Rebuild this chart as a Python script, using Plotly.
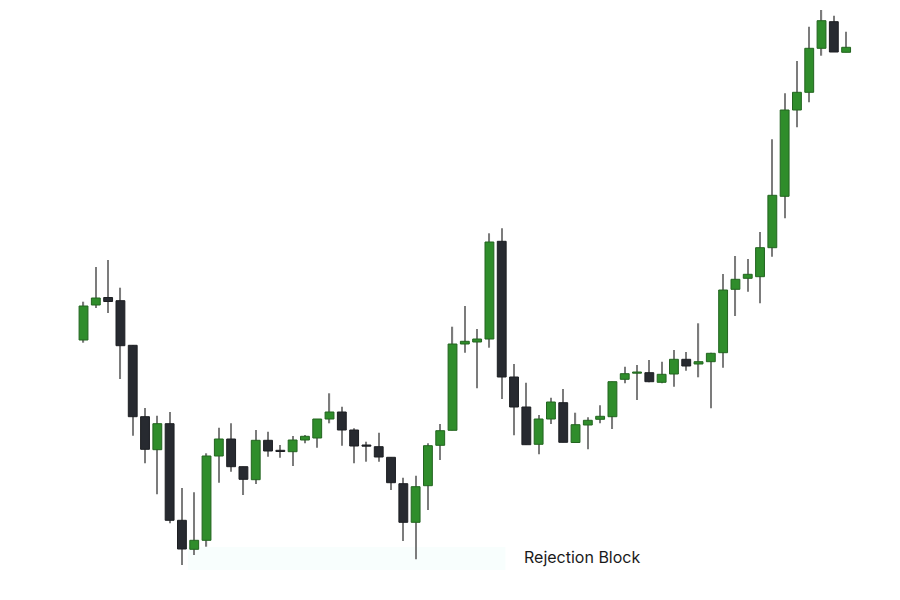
import plotly.graph_objects as go

# Candle values (arbitrary price units; higher = up)
opens  = [260, 295, 302.5, 299.3, 254.7, 183.3, 150.3, 176.3, 79.7, 50.7,
          59.7, 144, 161, 133.3, 120.3, 159.7, 149.5, 148.3, 160, 162, 181,
          188, 170, 154.2, 153.3, 142.7, 116.3, 77.7, 114.3, 154.7, 169.7,
          256, 258, 261, 358.7, 223, 193, 155.7, 181, 197.3, 157.5, 175,
          180.7, 183.3, 220.7, 226.8, 227.3, 217.7, 226, 240.7, 236, 238.3,
          247.3, 310.7, 321.7, 323.3, 352.3, 403.7, 490, 507.7, 551.7, 578.3,
          547.7]
highs  = [298.3, 333, 340, 312.3, 255, 192, 184.3, 188, 112, 107.7,
          146.7, 172.3, 176.7, 133.3, 170, 168.3, 155, 164, 165, 181, 206.7,
          193.3, 171.7, 158.3, 167.3, 142.7, 122.3, 124.3, 156.7, 176, 273.3,
          294, 271, 366.7, 371.7, 236, 217.3, 185, 202.3, 211, 187.3, 182.7,
          194.7, 218.3, 233.3, 235, 240, 238.3, 250, 248, 276.7, 247.3, 326,
          344, 341, 368, 460.7, 506.7, 539, 573.3, 590, 584.3, 568.3]
lows   = [257.3, 292, 287, 221, 164.3, 136.7, 105.7, 76.7, 35, 45,
          53.3, 117.3, 128.3, 105, 116, 143.3, 142.3, 134, 156.7, 152.3, 176.7,
          154.3, 136.7, 138.3, 138.3, 110, 59, 40.7, 90, 140, 169.7, 247.3,
          211.7, 252.3, 201, 164.7, 155.3, 145.7, 176, 157.7, 157.3, 150.7,
          176.7, 171, 216.7, 200, 217.7, 216.7, 213.3, 229.3, 222.7, 191.7,
          232.3, 284, 308.3, 296.7, 343.3, 381.7, 472.7, 497.7, 544.3, 548,
          547.7]
closes = [294, 302, 298.5, 254.3, 183.3, 150.7, 176.3, 79.7, 51, 59.7,
          144, 161, 133.3, 120.7, 159.7, 149, 148.5, 160, 163.7, 181, 188,
          170, 154, 153.8, 143, 117.3, 77.7, 113.3, 154.3, 169.3, 256, 258.7,
          261, 358, 223, 193, 155.3, 181, 198, 157.7, 175.3, 179.7, 183.7,
          218.3, 226.3, 227.2, 218.3, 225.7, 240.7, 234, 238.3, 246.7, 310,
          320.7, 325.7, 352.3, 404.7, 490, 507.7, 551.7, 579.3, 548, 552.7]

label_text = "Rejection Block"

GREEN = "#2f8d2b"
GREEN_EDGE = "#22641f"
DARK = "#272a30"
DARK_EDGE = "#1c1e22"
WICK = "#7c7c7c"

n = len(opens)
xs = list(range(n))
up = [c >= o for o, c in zip(opens, closes)]

fig = go.Figure()

# Faint highlight band near the bottom
fig.add_shape(type="rect", xref="x", yref="y", x0=8.5, x1=34.3, y0=30, y1=53,
              fillcolor="rgba(236,252,250,0.35)", line=dict(width=0), layer="below")

# Wicks
fig.add_trace(go.Bar(
    x=xs, y=[h - l for h, l in zip(highs, lows)], base=lows,
    width=0.1, marker=dict(color=WICK, line=dict(width=0)),
    hoverinfo="skip", showlegend=False))

# Bodies
body_base = [min(o, c) for o, c in zip(opens, closes)]
body_h = [max(abs(c - o), 1.2) for o, c in zip(opens, closes)]
fig.add_trace(go.Bar(
    x=xs, y=body_h, base=body_base, width=0.72,
    marker=dict(color=[GREEN if u else DARK for u in up],
                line=dict(color=[GREEN_EDGE if u else DARK_EDGE for u in up], width=1)),
    hoverinfo="skip", showlegend=False))

fig.add_annotation(x=40.5, y=43, xref="x", yref="y", text=label_text,
                   showarrow=False, font=dict(family="Inter, Open Sans, sans-serif",
                                              size=16, color="#1a1a1a"))

fig.update_layout(
    width=900, height=600, margin=dict(l=0, r=0, t=0, b=0),
    paper_bgcolor="white", plot_bgcolor="white", barmode="overlay",
    xaxis=dict(range=[-6.14, 67.03], visible=False, fixedrange=True),
    yaxis=dict(range=[-8, 592], visible=False, fixedrange=True),
)

fig.write_html("out.html")
